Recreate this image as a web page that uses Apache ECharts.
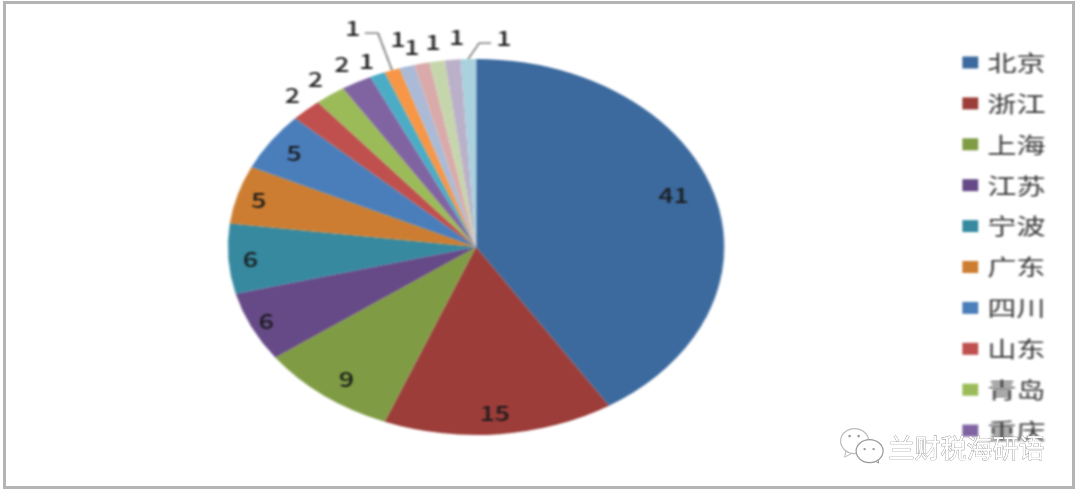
<!DOCTYPE html>
<html><head><meta charset="utf-8">
<script src="https://cdn.jsdelivr.net/npm/echarts@6/dist/echarts.min.js"></script>
<style>
html,body{margin:0;padding:0;background:#fff;overflow:hidden;width:1080px;height:495px}
#frame{position:absolute;left:3px;top:1px;width:1066px;height:482px;border:3px solid #b4b4b4;filter:blur(0.6px)}
#c{position:absolute;left:0;top:0;width:818px;height:495px;transform-origin:0 0;transform:scaleX(1.32);filter:blur(0.8px)}
#w{position:absolute;left:0;top:0;width:1080px;height:495px}
</style></head><body>
<div id="frame"></div>
<div id="c"></div>
<div id="w"></div>
<script>
const k = 1.32;
const categories = ['北京','浙江','上海','江苏','宁波','广东','四川','山东','青岛','重庆','','','','','','',''];
const legendNames = ['北京','浙江','上海','江苏','宁波','广东','四川','山东','青岛','重庆'];
const values = [41,15,9,6,6,5,5,2,2,2,1,1,1,1,1,1,1];
const colors = ['#3C6A9E','#9C3D39','#7F9C44','#664A87','#36899F','#CC7D31','#4A7EBB','#C0504D','#9BBB59','#8064A2','#4BACC6','#F79646','#AABAD7','#D9AAA9','#C6D6AC','#BAB0C9','#A9D1DE'];
const font = '"Noto Sans CJK SC","DejaVu Sans",sans-serif';
const insideCount = 7;
const cx = 476 / k, cy = 247, R = 188;
const insideNudge = [[-10.6,-5],[-1.5,0],[4,1],[-8,3],[-4.5,2],[-4.5,0],[0,0]];
const outsideNudge = {
  7:[3,-12],8:[2,-12],9:[1.5,-14],10:[4,-9],
  11:[-1.5,-15],12:[5,-23],13:[4,-12],14:[8,-15],15:[14,-18],16:[46,-9]
};
const lineLen = {11:[28,8],16:[12,8]};
const leader = {11:[[-10.6,-37],[-10,0]],16:[[8.3,-16],[9,0]]};
const chart = echarts.init(document.getElementById('c'), null, {renderer:'canvas'});
chart.setOption({
  animation:false,
  backgroundColor:'transparent',
  color:colors,
  legend:{
    orient:'vertical', left:724, top:46.5, data:legendNames,
    icon:'rect', itemWidth:12, itemHeight:12, itemGap:18.9,
    selectedMode:false,
    textStyle:{fontFamily:font,fontSize:22,color:'#333',padding:[0,0,0,2]}
  },
  series:[{
    type:'pie',
    center:[cx,cy], radius:[0,R],
    startAngle:90, clockwise:true,
    avoidLabelOverlap:false,
    minShowLabelAngle:0,
    itemStyle:{borderWidth:0},
    data:values.map((v,i)=>({
      name:categories[i], value:v,
      label:{
        position:i<insideCount?'inside':'outside',
        formatter:'{c}',
        fontFamily:font,fontSize:20,fontWeight:500,color:'#1a1a1a'
      },
      labelLine:{
        show:i in leader,
        length:lineLen[i]?lineLen[i][0]:4,
        length2:lineLen[i]?lineLen[i][1]:0,
        lineStyle:{color:'#666',width:1.2}
      }
    })),
    labelLayout:function(p){
      const i=p.dataIndex, r=p.labelRect;
      if(i<insideCount){
        const mx=r.x+r.width/2-cx, my=r.y+r.height/2-cy;
        return {dx:mx*0.72+insideNudge[i][0], dy:my*0.72+insideNudge[i][1]};
      }
      const n=outsideNudge[i];
      const out={dx:n[0],dy:n[1]};
      if(leader[i]&&p.labelLinePoints){
        const s=p.labelLinePoints[0], a=leader[i][0], b=leader[i][1];
        const m=[s[0]+a[0],s[1]+a[1]];
        out.labelLinePoints=[s,m,[m[0]+b[0],m[1]+b[1]]];
      }
      return out;
    }
  }]
});
const w = echarts.init(document.getElementById('w'));
w.setOption({animation:false,graphic:{elements:[
  {type:'group',left:840,top:428,silent:true,children:[
    {type:'polygon',shape:{points:[[6,20],[4,29],[14,24]]},style:{fill:'#fff',stroke:'#bbb',lineWidth:1}},
    {type:'ellipse',shape:{cx:14,cy:13,rx:14,ry:12.5},style:{fill:'#fff',stroke:'#bbb',lineWidth:1.2}},
    {type:'polygon',shape:{points:[[30,30],[38,35],[37,26]]},style:{fill:'#fff',stroke:'#999',lineWidth:1}},
    {type:'ellipse',shape:{cx:29,cy:23,rx:13.5,ry:11.5},style:{fill:'#fff',stroke:'#999',lineWidth:1.2}},
    {type:'circle',shape:{cx:9,cy:8,r:1.3},style:{fill:'#999'}},
    {type:'circle',shape:{cx:18,cy:8,r:1.3},style:{fill:'#999'}},
    {type:'circle',shape:{cx:24,cy:21,r:1.2},style:{fill:'#999'}},
    {type:'circle',shape:{cx:33,cy:21,r:1.2},style:{fill:'#999'}},
    {type:'text',style:{x:48,y:7,text:'兰财税海研语',fontFamily:font,fontSize:26,fill:'#fff',stroke:'#888',lineWidth:0.7}}
  ]}
]}});
</script>
</body></html>
